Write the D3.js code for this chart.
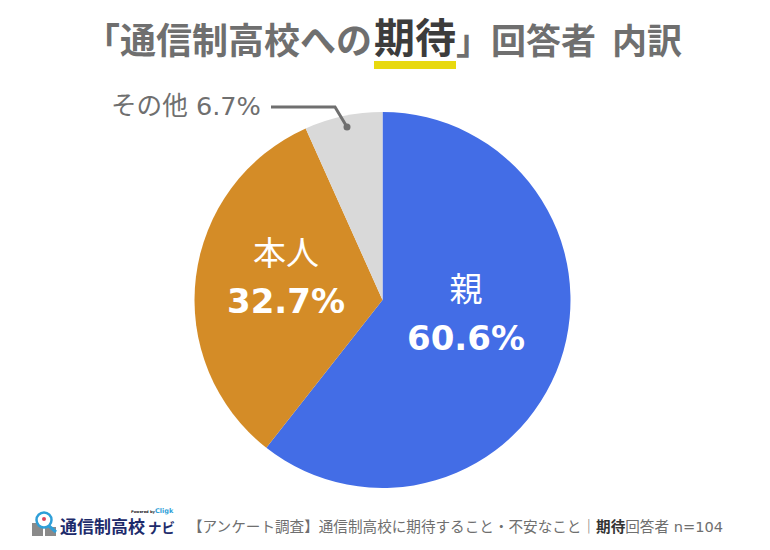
<!DOCTYPE html>
<html><head><meta charset="utf-8">
<script src="https://cdn.jsdelivr.net/npm/d3@7"></script>
<style>
html,body{margin:0;padding:0;background:#fff}
svg{display:block}
text{font-family:"DejaVu Sans","Noto Sans CJK JP",sans-serif}
</style></head><body>
<svg id="c" width="770" height="550"></svg>
<script>
const categories=["親","本人","その他"];
const values=[60.6,32.7,6.7];
const colors=["#436de6","#d48c27","#d9d9d9"];
const svg=d3.select("#c");
const cx=382.5,cy=300,R=188;
const pie=d3.pie().sort(null).value(d=>d)(values);
const arc=d3.arc().innerRadius(0).outerRadius(R);
const g=svg.append("g").attr("transform",`translate(${cx},${cy})`);
g.selectAll("path").data(pie).join("path").attr("d",arc).attr("fill",(d,i)=>colors[i]);

function t(x,y,str,size,fill,weight,anchor){
  return svg.append("text").attr("x",x).attr("y",y).attr("font-size",size).attr("fill",fill)
    .attr("font-weight",weight||400).attr("text-anchor",anchor||"middle").text(str);
}
// title
const titleFont='"Noto Sans CJK JP"';
t(84,54,"「通信制高校への",36,"#6f6f6f",700,"start").style("font-family",titleFont);
t(374,53,"期待",41,"#3c3c3c",700,"start").style("font-family",titleFont);
t(456,54,"」回答者",35,"#6f6f6f",700,"start").style("font-family",titleFont);
t(612,54,"内訳",35,"#6f6f6f",700,"start").style("font-family",titleFont);
svg.append("rect").attr("x",374).attr("y",61).attr("width",82).attr("height",8).attr("fill","#e8d90f");

// slice labels
t(466,301,categories[0],33,"#fff",400);
t(466,350,"60.6%",34,"#fff",700);
t(286,265,categories[1],33,"#fff",400);
t(286,313,"32.7%",34,"#fff",700);

// callout
t(111,115,"その他 6.7%",25.6,"#6f6f6f",400,"start");
svg.append("path").attr("d","M271 107H335L347 127").attr("fill","none").attr("stroke","#6f6f6f").attr("stroke-width",3);
svg.append("circle").attr("cx",347).attr("cy",127).attr("r",3.5).attr("fill","#6f6f6f");

// footer
const f=svg.append("text").attr("x",188).attr("y",532).attr("font-size",14.6).attr("fill","#6f6f6f");
f.append("tspan").text("【アンケート調査】通信制高校に期待すること・不安なこと｜");
f.append("tspan").attr("font-weight",700).attr("fill","#333").text("期待");
f.append("tspan").text("回答者 n=104");

// logo
const logo=svg.append("g");
logo.append("rect").attr("x",32).attr("y",523).attr("width",11).attr("height",13).attr("fill","#8a8a8a");
logo.append("rect").attr("x",45).attr("y",527).attr("width",11).attr("height",9).attr("fill","#8a8a8a");
logo.append("circle").attr("cx",44).attr("cy",520).attr("r",7.5).attr("fill","#fff").attr("stroke","#2f9fd8").attr("stroke-width",2.5);
logo.append("line").attr("x1",49).attr("y1",526).attr("x2",56).attr("y2",532).attr("stroke","#2f9fd8").attr("stroke-width",3);
logo.append("circle").attr("cx",44).attr("cy",519).attr("r",2).attr("fill","#e0445a");
t(60,533,"通信制高校",17,"#1d2b6b",700,"start").style("font-family",titleFont);
t(148,533,"ナビ",13.5,"#1d2b6b",700,"start").style("font-family",titleFont);
t(131,513,"Powered by",3.6,"#222",700,"start");
t(155,513,"Cligk",6.5,"#2f9fd8",700,"start");
</script></body></html>
